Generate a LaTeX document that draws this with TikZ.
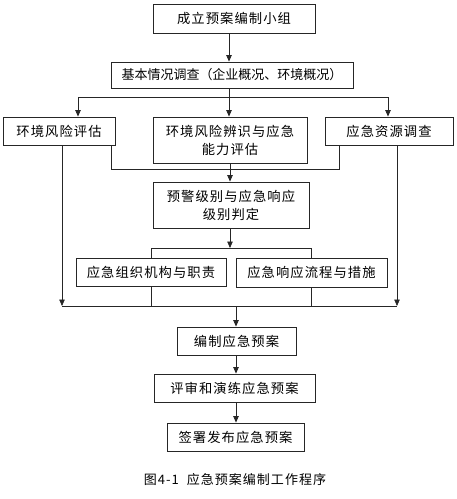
\documentclass[tikz,border=0pt]{standalone}
\usepackage{fontspec}
\setmainfont[LetterSpace=8]{Noto Sans CJK SC}
\usetikzlibrary{arrows.meta}
\begin{document}
\begin{tikzpicture}[x=1pt,y=-1pt,
  box/.style={draw=black!85,line width=0.9pt,inner sep=0pt,align=center,font=\fontsize{13.3}{18}\selectfont},
  ln/.style={draw=black!85,line width=0.7pt},
  arr/.style={ln,-{Triangle[width=5.5pt,length=6.5pt]}}]
\useasboundingbox (0,0) rectangle (457,499);
\node[box,minimum width=162,minimum height=29] (b1) at (234,18.5) {成立预案编制小组};
\node[box,minimum width=242,minimum height=26] (b2) at (232,75) {\addfontfeature{LetterSpace=0}\fontsize{13}{18}\selectfont 基本情况调查（企业概况、环境概况）};
\node[box,minimum width=112,minimum height=28] (b3) at (59,131) {环境风险评估};
\node[box,minimum width=154,minimum height=46] (b4) at (230,140) {环境风险辨识与应急\\能力评估};
\node[box,minimum width=128,minimum height=28] (b5) at (389,131) {应急资源调查};
\node[box,minimum width=156,minimum height=46] (b6) at (231,205) {预警级别与应急响应\\级别判定};
\node[box,minimum width=150,minimum height=28] (b7) at (151,272) {应急组织机构与职责};
\node[box,minimum width=151,minimum height=29] (b8) at (311.5,272.5) {应急响应流程与措施};
\node[box,minimum width=119,minimum height=28] (b9) at (236.5,341) {编制应急预案};
\node[box,minimum width=161,minimum height=28] (b10) at (234.5,388) {评审和演练应急预案};
\node[box,minimum width=137,minimum height=28] (b11) at (235.5,437) {签署发布应急预案};
\node[font=\fontsize{13}{15}\selectfont] (cap) at (235,480) {图4-1\hspace{0.6em}应急预案编制工作程序};
% top
\coordinate (t) at (229,97);
\coordinate (tl) at (78,97);
\coordinate (tr) at (388,97);
\draw[arr] (t |- b1.south) -- (t |- b2.north);
\draw[ln] (t |- b2.south) -- (t);
\draw[ln] (tl) -- (tr);
\draw[arr] (tl) -- (tl |- b3.north);
\draw[arr] (t) -- (t |- b4.north);
\draw[arr] (tr) -- (tr |- b5.north);
% middle collector
\coordinate (ml) at (111,169);
\coordinate (mr) at (339,169);
\coordinate (mc) at (230,169);
\draw[ln] (ml |- b3.south) -- (ml) -- (mr) -- (mr |- b5.south);
\draw[ln] (mc |- b4.south) -- (mc);
\draw[arr] (mc) -- (mc |- b6.north);
% split
\coordinate (s) at (230,248);
\coordinate (sl) at (151,248);
\coordinate (sr) at (311,248);
\draw[arr] (s |- b6.south) -- (s);
\draw[ln] (sl |- b7.north) -- (sl) -- (sr) -- (sr |- b8.north);
% bottom collector
\coordinate (bl) at (62,306);
\coordinate (br) at (397,306);
\coordinate (bc) at (236,306);
\draw[arr] (bl |- b3.south) -- (bl);
\draw[arr] (br |- b5.south) -- (br);
\draw[ln] (bl) -- (br);
\draw[ln] (sl |- b7.south) -- (sl |- bl);
\draw[ln] (sr |- b8.south) -- (sr |- br);
\draw[arr] (bc) -- (bc |- b9.north);
\draw[arr] (bc |- b9.south) -- (bc |- b10.north);
\draw[arr] (bc |- b10.south) -- (bc |- b11.north);
\end{tikzpicture}
\end{document}
